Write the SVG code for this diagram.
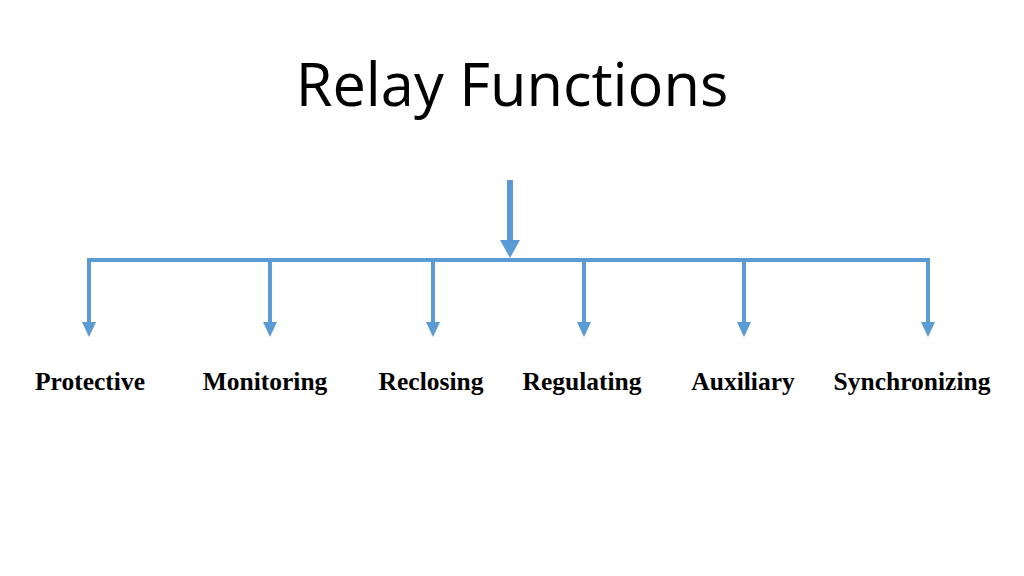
<svg xmlns="http://www.w3.org/2000/svg" width="1024" height="576" viewBox="0 0 1024 576">
<style>
.title{font-family:"Open Sans","Noto Sans","Liberation Sans",sans-serif;font-size:59.5px;fill:#000}
.lbl{font-family:"Liberation Serif",serif;font-weight:bold;font-size:25.5px;fill:#000;text-anchor:middle}
.ln{stroke:#5B9BD5;fill:none}
.ah{fill:#5B9BD5}
</style>
<rect width="1024" height="576" fill="#fff"/>
<text class="title" x="512" y="106" text-anchor="middle">Relay Functions</text>
<g id="connectors">
<line class="ln" x1="510" y1="180" x2="510" y2="242" stroke-width="6"/>
<polygon class="ah" points="500,240 520,240 510,258"/>
<line class="ln" x1="87" y1="260" x2="930" y2="260" stroke-width="4"/>
<g stroke-width="4">
<line class="ln" x1="89" y1="258" x2="89" y2="324"/>
<line class="ln" x1="270" y1="260" x2="270" y2="324"/>
<line class="ln" x1="433" y1="260" x2="433" y2="324"/>
<line class="ln" x1="584" y1="260" x2="584" y2="324"/>
<line class="ln" x1="744" y1="260" x2="744" y2="324"/>
<line class="ln" x1="928" y1="258" x2="928" y2="324"/>
</g>
<polygon class="ah" points="82,322 96,322 89,337"/>
<polygon class="ah" points="263,322 277,322 270,337"/>
<polygon class="ah" points="426,322 440,322 433,337"/>
<polygon class="ah" points="577,322 591,322 584,337"/>
<polygon class="ah" points="737,322 751,322 744,337"/>
<polygon class="ah" points="921,322 935,322 928,337"/>
</g>
<g id="n1"><text class="lbl" x="90" y="390">Protective</text></g>
<g id="n2"><text class="lbl" x="265" y="390">Monitoring</text></g>
<g id="n3"><text class="lbl" x="431" y="390">Reclosing</text></g>
<g id="n4"><text class="lbl" x="582" y="390">Regulating</text></g>
<g id="n5"><text class="lbl" x="743" y="390">Auxiliary</text></g>
<g id="n6"><text class="lbl" x="912" y="390">Synchronizing</text></g>
</svg>
